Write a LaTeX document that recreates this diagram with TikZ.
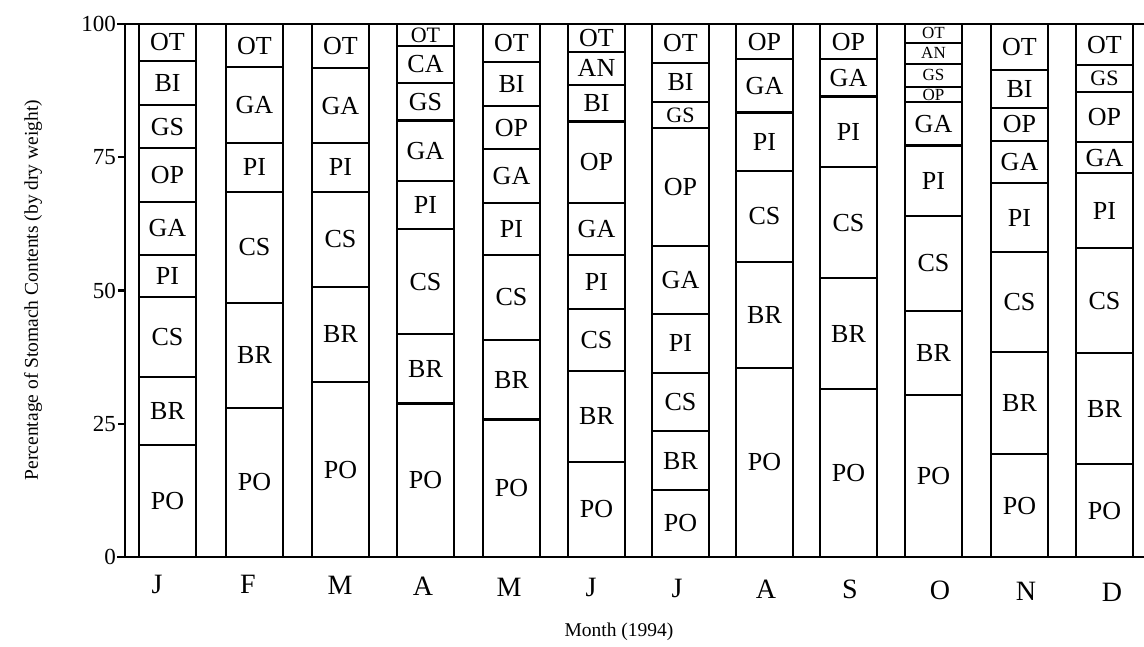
\documentclass[tikz,border=0pt]{standalone}
\usepackage{fontspec}
\setmainfont{Liberation Serif}
\tikzset{
  barline/.style={line width=2.1pt},
  axisline/.style={line width=2.1pt},
  seglab/.style={font=\fontsize{26}{26}\selectfont, inner sep=0pt},
  smalllab/.style={font=\fontsize{22}{22}\selectfont},
  tinylab/.style={font=\fontsize{17}{17}\selectfont},
  monthlab/.style={font=\fontsize{28}{28}\selectfont, inner sep=0pt},
  ticklab/.style={font=\fontsize{23}{23}\selectfont, inner sep=0pt, anchor=east},
  axtitle/.style={font=\fontsize{19.5}{19.5}\selectfont, inner sep=0pt}
}
\newcommand\seg[5][]{%
  \pgfmathsetmacro\segxl{{139,226,312,397,483,568,652,736,820,905,991,1076}[#2-1]}%
  \pgfmathsetmacro\segxr{\segxl+57}%
  \pgfmathsetmacro\segyl{557-5.33*#3}%
  \pgfmathsetmacro\segyh{557-5.33*#4}%
  \draw[barline] (\segxl,\segyl) rectangle (\segxr,\segyh);
  \node[seglab,#1] (s#2#5) at ({(\segxl+\segxr)/2},{(\segyl+\segyh)/2}) {#5};
}
\begin{document}
\begin{tikzpicture}[x=1pt,y=-1pt]
\useasboundingbox (0,0) rectangle (1144,646);
% axes
\draw[axisline] (125,24) -- (125,557);
\draw[axisline] (117,24) -- (1144,24);
\draw[axisline] (117,557) -- (1144,557);
\foreach \t in {25,50,75}
  \draw[axisline] (118,{557-5.33*\t}) -- (125,{557-5.33*\t});
\foreach \t in {0,25,50,75,100}
  \node[ticklab] (t\t) at (116,{557-5.33*\t}) {\t};
% J
\seg{1}{0}{21}{PO}\seg{1}{21}{33.8}{BR}\seg{1}{33.8}{48.8}{CS}\seg{1}{48.8}{56.7}{PI}
\seg{1}{56.7}{66.6}{GA}\seg{1}{66.6}{76.7}{OP}\seg{1}{76.7}{84.8}{GS}\seg{1}{84.8}{93.1}{BI}\seg{1}{93.1}{100}{OT}
% F
\seg{2}{0}{28}{PO}\seg{2}{28}{47.7}{BR}\seg{2}{47.7}{68.5}{CS}\seg{2}{68.5}{77.7}{PI}\seg{2}{77.7}{91.9}{GA}\seg{2}{91.9}{100}{OT}
% M
\seg{3}{0}{32.8}{PO}\seg{3}{32.8}{50.7}{BR}\seg{3}{50.7}{68.5}{CS}\seg{3}{68.5}{77.7}{PI}\seg{3}{77.7}{91.7}{GA}\seg{3}{91.7}{100}{OT}
% A
\seg{4}{0}{28.8}{PO}\seg{4}{28.8}{41.8}{BR}\seg{4}{41.8}{61.5}{CS}\seg{4}{61.5}{70.5}{PI}\seg{4}{70.5}{81.9}{GA}
\seg{4}{81.9}{88.9}{GS}\seg{4}{88.9}{95.9}{CA}\seg[smalllab]{4}{95.9}{100}{OT}
% M
\seg{5}{0}{25.8}{PO}\seg{5}{25.8}{40.7}{BR}\seg{5}{40.7}{56.7}{CS}\seg{5}{56.7}{66.5}{PI}\seg{5}{66.5}{76.5}{GA}
\seg{5}{76.5}{84.6}{OP}\seg{5}{84.6}{92.8}{BI}\seg{5}{92.8}{100}{OT}
% J
\seg{6}{0}{17.9}{PO}\seg{6}{17.9}{34.9}{BR}\seg{6}{34.9}{46.5}{CS}\seg{6}{46.5}{56.7}{PI}\seg{6}{56.7}{66.4}{GA}
\seg{6}{66.4}{81.7}{OP}\seg{6}{81.7}{88.6}{BI}\seg{6}{88.6}{94.8}{AN}\seg{6}{94.8}{100}{OT}
% J
\seg{7}{0}{12.6}{PO}\seg{7}{12.6}{23.6}{BR}\seg{7}{23.6}{34.6}{CS}\seg{7}{34.6}{45.6}{PI}\seg{7}{45.6}{58.3}{GA}
\seg{7}{58.3}{80.5}{OP}\seg[smalllab]{7}{80.5}{85.4}{GS}\seg{7}{85.4}{92.7}{BI}\seg{7}{92.7}{100}{OT}
% A
\seg{8}{0}{35.5}{PO}\seg{8}{35.5}{55.4}{BR}\seg{8}{55.4}{72.4}{CS}\seg{8}{72.4}{83.4}{PI}\seg{8}{83.4}{93.4}{GA}\seg{8}{93.4}{100}{OP}
% S
\seg{9}{0}{31.5}{PO}\seg{9}{31.5}{52.3}{BR}\seg{9}{52.3}{73.2}{CS}\seg{9}{73.2}{86.4}{PI}\seg{9}{86.4}{93.4}{GA}\seg{9}{93.4}{100}{OP}
% O
\seg{10}{0}{30.4}{PO}\seg{10}{30.4}{46.2}{BR}\seg{10}{46.2}{64.0}{CS}\seg{10}{64.0}{77.2}{PI}\seg{10}{77.2}{85.3}{GA}
\seg[tinylab]{10}{85.3}{88.2}{OP}\seg[tinylab]{10}{88.2}{92.5}{GS}\seg[tinylab]{10}{92.5}{96.5}{AN}\seg[tinylab]{10}{96.5}{100}{OT}
% N
\seg{11}{0}{19.3}{PO}\seg{11}{19.3}{38.4}{BR}\seg{11}{38.4}{57.2}{CS}\seg{11}{57.2}{70.1}{PI}\seg{11}{70.1}{78.1}{GA}
\seg{11}{78.1}{84.2}{OP}\seg{11}{84.2}{91.4}{BI}\seg{11}{91.4}{100}{OT}
% D
\seg{12}{0}{17.4}{PO}\seg{12}{17.4}{38.3}{BR}\seg{12}{38.3}{57.9}{CS}\seg{12}{57.9}{72.0}{PI}\seg{12}{72.0}{77.9}{GA}
\seg{12}{77.9}{87.3}{OP}\seg[smalllab]{12}{87.3}{92.3}{GS}\seg{12}{92.3}{100}{OT}
% month labels
\foreach \mx/\ml [count=\i] in {157/J,248/F,340/M,423/A,509/M,591/J,677/J,766/A,850/S,940/O,1026/N,1112/D}
  \node[monthlab] (m\i) at (\mx,{584+(\i-1)*0.73}) {\ml};
\node[axtitle] (xlab) at (619,632) {Month (1994)};
\node[axtitle, rotate=90] (ylab) at (33,290) {Percentage of Stomach Contents (by dry weight)};
\end{tikzpicture}
\end{document}
